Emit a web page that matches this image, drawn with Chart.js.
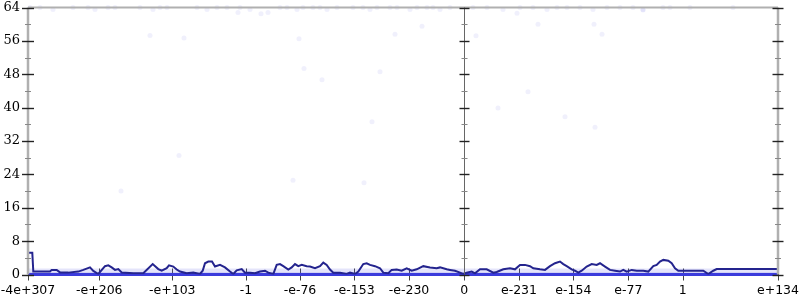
<!DOCTYPE html>
<html><head><meta charset="utf-8">
<script src="https://cdn.jsdelivr.net/npm/chart.js@4/dist/chart.umd.min.js"></script>
<style>html,body{margin:0;padding:0;background:#fff}#wrap{width:800px;height:300px}</style>
</head><body><div id="wrap"><canvas id="c" width="800" height="300"></canvas></div>
<script>
// tick positions (order index) and labels
const xTickPos = [0, 71.3, 144.3, 218, 272, 326.3, 381, 436.3, 491, 545.3, 600.3, 654.7, 750];
const xTickLabels = ['-4e+307','-e+206','-e+103','-1','-e-76','-e-153','-e-230','0','e-231','e-154','e-77','1','e+134'];
const zeroPos = 436.3;
const yMax = 64;

// running-average line
const lineX = [0,4.3,5.3,22,23.7,28.7,32,40.3,50.3,55.3,62,65.3,70.3,77,80.3,83.7,87,90.3,93.7,105.3,115.3,124.7,130.3,133.7,138.7,141,145.3,148.7,152,158.7,165.3,172,174.7,177,180.3,184,187,192,197,202,205.3,208.7,213.7,217,222,227,232,237,240.3,245.3,248.7,252,255.3,260.3,263.7,267,270.3,273.7,278.7,282,287,292,295.3,298.7,302,305.3,312,318.7,322,327,330.3,335.3,338.7,342,347,352,355.3,360.3,363.7,368.7,373.7,378.7,383.7,388.7,395.3,402,408.7,412,418.7,422,427,432,435.3,438.7,443.7,447,452,458.7,465.3,468.7,475.3,482,487,492,497,502,505.3,512,517,522,527,532,535.3,538.7,543.7,547,550.3,553.7,558.7,563.7,568.7,572,577,582,587,592,595.3,598.7,603.7,608.7,615.3,620.3,625.3,628.7,632,635.3,640.3,643.7,647,650.3,675.3,680.3,685.3,688.7,750];
const lineY = [5.2,5.2,0.7,0.7,1.1,1.1,0.5,0.45,0.7,1.1,1.7,0.85,0.12,2.0,2.2,1.7,1.1,1.3,0.5,0.3,0.3,2.5,1.3,0.9,1.5,2.2,1.9,1.2,0.7,0.3,0.5,0.12,0.9,2.7,3.1,3.1,1.9,2.3,1.7,0.7,0.12,1.0,1.3,0.44,0.44,0.3,0.7,0.9,0.44,0.12,2.3,2.5,2.0,1.2,1.7,2.5,2.0,2.3,2.0,1.9,1.5,2.0,2.85,2.3,1.2,0.44,0.44,0.12,0.44,0.12,0.7,2.5,2.7,2.3,2.0,1.5,0.44,0.3,1.1,1.2,0.9,1.5,0.92,1.24,2.0,1.7,1.5,1.7,1.24,1.1,0.9,0.44,0.12,0.44,0.7,0.28,1.24,1.24,0.44,0.6,1.24,1.5,1.24,2.3,2.3,2.0,1.5,1.24,1.1,2.0,2.7,3.1,2.5,2.0,1.24,0.9,0.44,0.9,1.9,2.5,2.3,2.7,1.9,1.1,0.9,0.7,1.1,0.7,1.1,0.9,0.9,0.7,2.0,2.3,3.1,3.5,3.3,2.7,1.5,0.9,0.9,0.12,0.9,1.3,1.3];

// individual samples (faint dots)
const dotX = [2,12,25,45,60,67,80,87,112,125,132,139,169,179,189,199,212,222,252,259,269,275,285,292,299,309,325,335,342,349,362,369,382,389,399,405,412,422,445,459,475,492,505,519,529,539,552,565,579,592,605,615,635,642,662,705,
  122,156,271,276,294,344,352,367,394,210,233,240,448,489,510,566,574,615,470,500,537,567,93,151,265,336];
const dotY = [64,64,63.5,64,64,63.5,64,64,64,63.5,64,64,64,63.5,64,64,64,63.5,64,64,63.5,64,64,64,63.5,64,64,64,63.5,64,64,64,63.5,64,64,64,63.5,64,64,64,63.5,64,64,63.5,64,64,64,63.5,64,64,64,63.5,64,64,64,64,
  57.3,56.7,56.5,49.4,46.7,36.6,48.6,57.6,59.5,62.8,62.5,62.8,57.2,62.6,60,60,57.6,63.4,39.9,43.8,37.8,35.3,20,28.5,22.6,22];

// dense bands of samples near zero
const baseX = [0, 750];
const baseY = [0, 0];
const bandX = [0, 750];
const bandY = [1.45, 1.45];
const innerBandY = [0.6, 0.6];

const pts = (xs, ys) => xs.map((v, i) => ({x: v, y: ys[i]}));

const axisDeco = {
  id: 'axisDeco',
  beforeDatasetsDraw(chart) {
    const {ctx, chartArea: a, scales: {x}} = chart;
    ctx.save();
    ctx.strokeStyle = '#444'; ctx.lineWidth = 1;
    xTickPos.forEach(v => {
      const px = Math.round(x.getPixelForValue(v)) + 0.5;
      ctx.beginPath(); ctx.moveTo(px, a.bottom - 6); ctx.lineTo(px, a.bottom + 6); ctx.stroke();
    });
    ctx.restore();
  },
  afterDatasetsDraw(chart) {
    const {ctx, chartArea: a, scales: {x, y}} = chart;
    ctx.save();
    ctx.strokeStyle = '#b0b0b0';
    ctx.lineWidth = 2;
    ctx.beginPath(); ctx.moveTo(a.left, a.top); ctx.lineTo(a.right, a.top); ctx.stroke();
    ctx.lineWidth = 2.5;
    ctx.beginPath(); ctx.moveTo(a.left, a.top); ctx.lineTo(a.left, a.bottom); ctx.stroke();
    ctx.beginPath(); ctx.moveTo(a.right, a.top); ctx.lineTo(a.right, a.bottom); ctx.stroke();
    const mx = Math.round(x.getPixelForValue(zeroPos)) + 0.5;
    ctx.strokeStyle = '#666'; ctx.lineWidth = 1;
    ctx.beginPath(); ctx.moveTo(mx, a.top); ctx.lineTo(mx, a.bottom); ctx.stroke();
    const axes = [[a.left, 6, 3], [mx, 5, 3], [a.right, 5.5, 3]];
    for (let v = 0; v <= yMax; v += 4) {
      const py = Math.round(y.getPixelForValue(v)) + 0.5;
      const major = v % 8 === 0;
      ctx.strokeStyle = major ? '#222' : '#888';
      ctx.lineWidth = major ? 1.4 : 1;
      axes.forEach(([ax, big, small]) => {
        const h = major ? big : small;
        ctx.beginPath(); ctx.moveTo(ax - h, py); ctx.lineTo(ax + h, py); ctx.stroke();
      });
    }
    ctx.restore();
  }
};

new Chart(document.getElementById('c'), {
  type: 'scatter',
  data: {
    datasets: [
      {type: 'line', data: pts(bandX, bandY), borderWidth: 0, pointRadius: 0, fill: 'origin', backgroundColor: 'rgba(90,90,225,0.16)', order: 5},
      {type: 'line', data: pts(bandX, innerBandY), borderWidth: 0, pointRadius: 0, fill: 'origin', backgroundColor: 'rgba(90,90,225,0.14)', order: 4},
      {data: pts(dotX, dotY), pointRadius: 2.5, pointBackgroundColor: 'rgba(70,70,220,0.08)', pointBorderWidth: 0, clip: false, order: 3},
      {type: 'line', data: pts(baseX, baseY), borderColor: '#3b3bdc', borderWidth: 3, pointRadius: 0, clip: false, order: 2},
      {type: 'line', data: pts(lineX, lineY), borderColor: '#24248e', borderWidth: 2, pointRadius: 0, tension: 0, order: 1}
    ]
  },
  options: {
    responsive: false,
    animation: false,
    events: [],
    layout: {padding: {left: 0, right: 22, top: 7.5, bottom: 0}},
    plugins: {legend: {display: false}, tooltip: {enabled: false}},
    scales: {
      x: {
        type: 'linear', min: 0, max: 750,
        grid: {display: false, drawTicks: false},
        border: {display: false},
        afterBuildTicks: s => { s.ticks = xTickPos.map(v => ({value: v})); },
        afterFit: s => { s.height = 25.5; s.paddingLeft = 0; s.paddingRight = 0; },
        ticks: {
          autoSkip: false, maxRotation: 0, padding: 9, color: '#000',
          font: {family: 'DejaVu Sans', size: 12.5},
          callback: (v, i) => xTickLabels[i]
        }
      },
      y: {
        min: 0, max: yMax,
        grid: {display: false, drawTicks: false},
        border: {display: false},
        afterFit: s => { s.width = 28; s.paddingTop = 0; s.paddingBottom = 0; },
        ticks: {stepSize: 8, padding: 8, color: '#000', font: {family: 'DejaVu Serif', size: 13}}
      }
    }
  },
  plugins: [axisDeco]
});
</script>
</body></html>
